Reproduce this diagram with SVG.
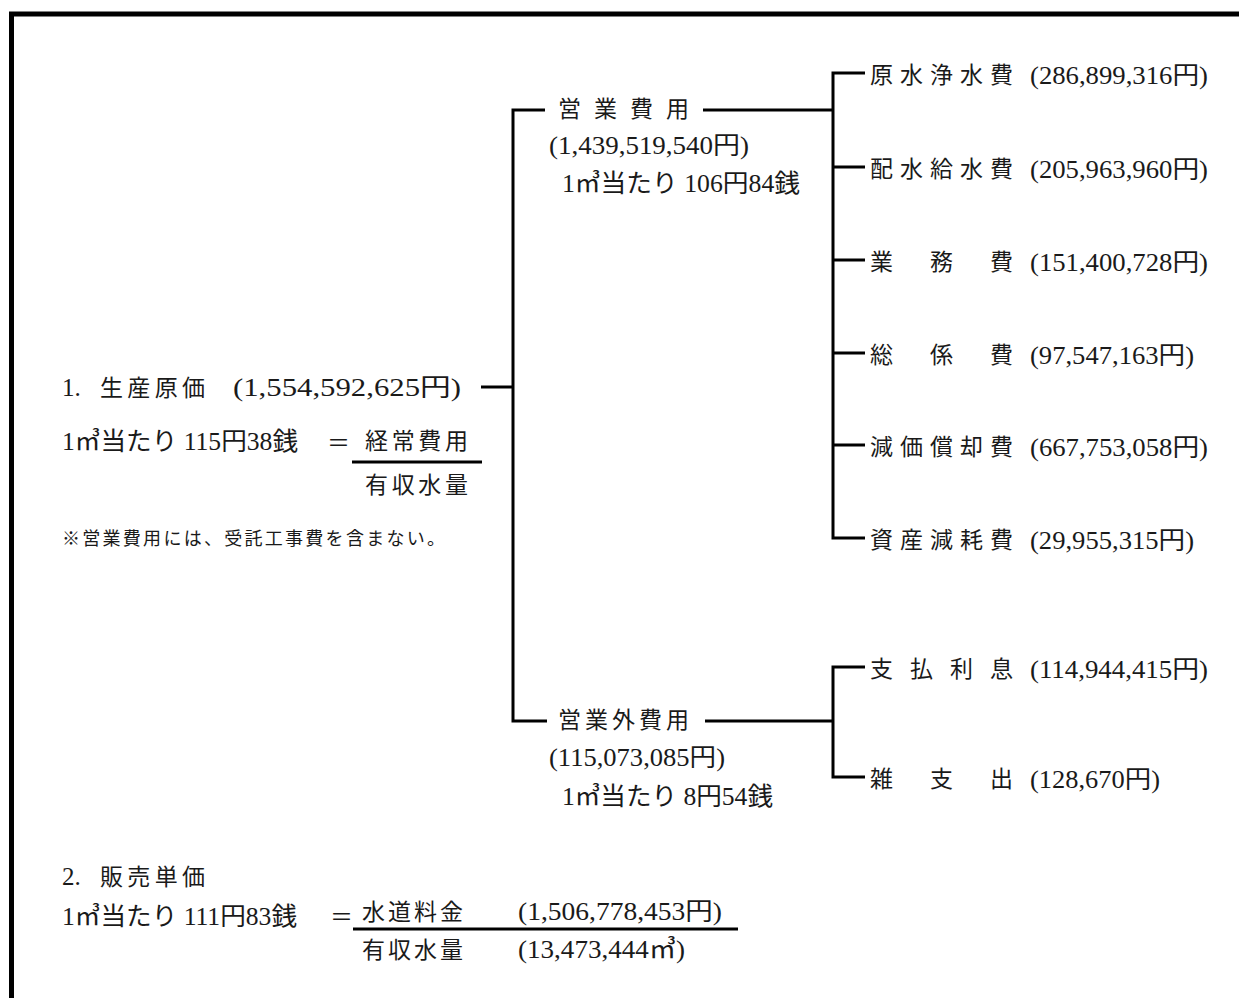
<svg xmlns="http://www.w3.org/2000/svg" width="1239" height="998" viewBox="0 0 1239 998">
<style>
.t{font-family:"Liberation Serif","Noto Sans CJK JP",serif;font-size:23px;fill:#1a1a1a}
.n{font-size:25px}
.s{font-size:18px}
.c{stroke:#000;stroke-width:3;fill:none}
.b{stroke:#000;stroke-width:5;fill:none}
</style>
<rect width="1239" height="998" fill="#fff"/>
<g id="frame"><path class="b" d="M11.5 998 V14 H1239"/></g>
<g id="connectors">
<path class="c" d="M481 387 H513"/>
<path class="c" d="M545 110 H513 V721 H547"/>
<path class="c" d="M703 110 H833"/>
<path class="c" d="M865 73 H833 V538 H865"/>
<path class="c" d="M833 167 H865 M833 260 H865 M833 353 H865 M833 445 H865"/>
<path class="c" d="M705 721 H833"/>
<path class="c" d="M865 667 H833 V777 H865"/>
</g>
<g id="root">
<text class="t n" x="62" y="396">1.</text>
<text class="t" x="100" y="396" textLength="105">生産原価</text>
<text class="t n" x="233" y="396" textLength="228" lengthAdjust="spacingAndGlyphs">(1,554,592,625円)</text>
<text class="t n" x="62" y="450" textLength="236" lengthAdjust="spacingAndGlyphs">1㎥当たり 115円38銭</text>
<text class="t" x="327" y="451">＝</text>
<text class="t" x="365" y="449" textLength="103">経常費用</text>
<path class="c" d="M352 462 H482"/>
<text class="t" x="365" y="493" textLength="103">有収水量</text>
<text class="t s" x="62" y="545" textLength="383">※営業費用には、受託工事費を含まない。</text>
</g>
<g id="eigyo">
<text class="t" x="558 594 630 666" y="117">営業費用</text>
<text class="t n" x="549" y="154" textLength="200" lengthAdjust="spacingAndGlyphs">(1,439,519,540円)</text>
<text class="t n" x="562" y="192" textLength="238" lengthAdjust="spacingAndGlyphs">1㎥当たり 106円84銭</text>
</g>
<g id="eigyogai">
<text class="t" x="558 585 612 639 666" y="728">営業外費用</text>
<text class="t n" x="549" y="766" textLength="176" lengthAdjust="spacingAndGlyphs">(115,073,085円)</text>
<text class="t n" x="562" y="805" textLength="211" lengthAdjust="spacingAndGlyphs">1㎥当たり 8円54銭</text>
</g>
<g id="gensui">
<text class="t" x="870 900 930 960 990" y="83">原水浄水費</text>
<text class="t n" x="1030" y="84" textLength="178" lengthAdjust="spacingAndGlyphs">(286,899,316円)</text>
</g>
<g id="haisui">
<text class="t" x="870 900 930 960 990" y="177">配水給水費</text>
<text class="t n" x="1030" y="178" textLength="178" lengthAdjust="spacingAndGlyphs">(205,963,960円)</text>
</g>
<g id="gyomu">
<text class="t" x="870 930 990" y="270">業務費</text>
<text class="t n" x="1030" y="271" textLength="178" lengthAdjust="spacingAndGlyphs">(151,400,728円)</text>
</g>
<g id="sokei">
<text class="t" x="870 930 990" y="363">総係費</text>
<text class="t n" x="1030" y="364" textLength="164" lengthAdjust="spacingAndGlyphs">(97,547,163円)</text>
</g>
<g id="genka">
<text class="t" x="870 900 930 960 990" y="455">減価償却費</text>
<text class="t n" x="1030" y="456" textLength="178" lengthAdjust="spacingAndGlyphs">(667,753,058円)</text>
</g>
<g id="shisan">
<text class="t" x="870 900 930 960 990" y="548">資産減耗費</text>
<text class="t n" x="1030" y="549" textLength="164" lengthAdjust="spacingAndGlyphs">(29,955,315円)</text>
</g>
<g id="shiharai">
<text class="t" x="870 910 950 990" y="677">支払利息</text>
<text class="t n" x="1030" y="678" textLength="178" lengthAdjust="spacingAndGlyphs">(114,944,415円)</text>
</g>
<g id="zatsu">
<text class="t" x="870 930 990" y="787">雑支出</text>
<text class="t n" x="1030" y="788" textLength="130" lengthAdjust="spacingAndGlyphs">(128,670円)</text>
</g>
<g id="hanbai">
<text class="t n" x="62" y="885">2.</text>
<text class="t" x="100" y="885" textLength="105">販売単価</text>
<text class="t n" x="62" y="925" textLength="235" lengthAdjust="spacingAndGlyphs">1㎥当たり 111円83銭</text>
<text class="t" x="330" y="925">＝</text>
<text class="t" x="362" y="920" textLength="101">水道料金</text>
<text class="t n" x="518" y="920" textLength="204" lengthAdjust="spacingAndGlyphs">(1,506,778,453円)</text>
<path class="c" d="M353 929 H738"/>
<text class="t" x="362" y="958" textLength="101">有収水量</text>
<text class="t n" x="518" y="958" textLength="167" lengthAdjust="spacingAndGlyphs">(13,473,444㎥)</text>
</g>
</svg>
